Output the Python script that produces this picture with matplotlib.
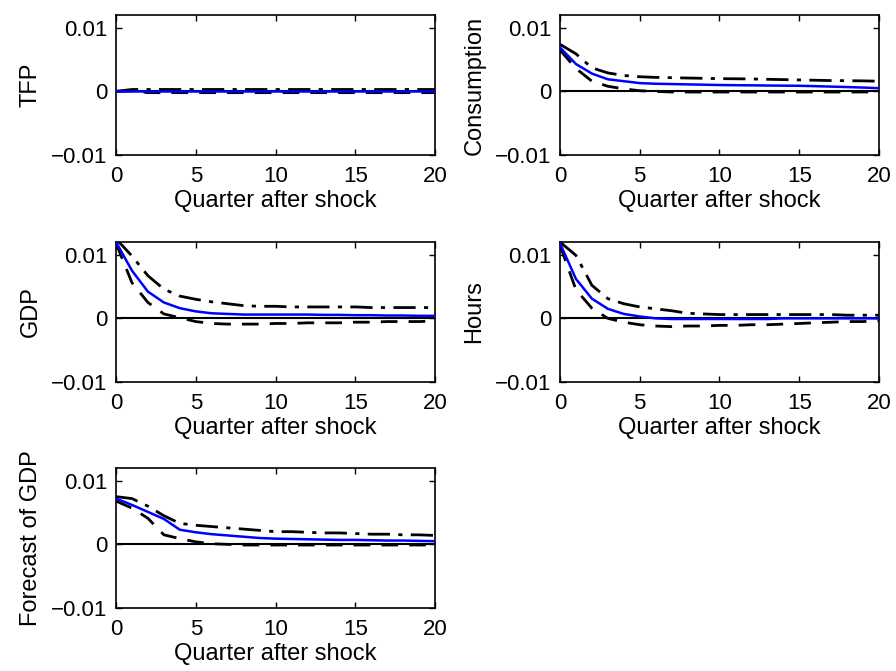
import numpy as np
import matplotlib
matplotlib.use("Agg")
import matplotlib.pyplot as plt

plt.rcParams['font.family'] = ['Liberation Sans', 'DejaVu Sans']

# --- data: impulse responses, quarters 0..20 ---
quarters = np.arange(21)

titles = ["TFP", "Consumption", "GDP", "Hours", "Forecast of GDP"]

tfp_med = [0.0, 0.0, 0.0, 0.0, 0.0, 0.0, 0.0, 0.0, 0.0, 0.0, 0.0,
           0.0, 0.0, 0.0, 0.0, 0.0, 0.0, 0.0, 0.0, 0.0, 0.0]
tfp_hi = [0.0, 0.0003, 0.0003, 0.0003, 0.0003, 0.0003, 0.0003, 0.0003, 0.0003, 0.0003, 0.0003,
          0.0003, 0.0003, 0.0003, 0.0003, 0.0003, 0.0003, 0.0003, 0.0003, 0.0003, 0.0003]
tfp_lo = [0.0, 0.0001, -0.0002, -0.0002, -0.0002, -0.0002, -0.0002, -0.0002, -0.0002, -0.0002, -0.0002,
          -0.0002, -0.0002, -0.0002, -0.0002, -0.0002, -0.0002, -0.0002, -0.0002, -0.0002, -0.0002]

cons_med = [0.0069, 0.0043, 0.0028, 0.0019, 0.0016, 0.0013, 0.0012, 0.00115, 0.0011, 0.00105, 0.001,
            0.00097, 0.00095, 0.00092, 0.0009, 0.00088, 0.00082, 0.00075, 0.00068, 0.0006, 0.0005]
cons_hi = [0.0074, 0.0059, 0.0037, 0.0029, 0.0025, 0.0023, 0.0022, 0.00215, 0.0021, 0.00205, 0.002,
           0.00198, 0.00195, 0.0019, 0.00185, 0.0018, 0.00175, 0.0017, 0.00168, 0.00165, 0.0016]
cons_lo = [0.0065, 0.0036, 0.0016, 0.0008, 0.0004, 0.0001, 0.0, -0.0001, -0.0001, -0.0001, -0.0001,
           -0.0001, -0.0001, -0.0001, -0.0001, -0.0001, -0.0001, -0.0001, -0.0001, -0.0001, -0.0001]

gdp_med = [0.012, 0.0075, 0.0042, 0.0025, 0.0016, 0.0011, 0.0008, 0.0007, 0.0006, 0.0006, 0.0006,
           0.0006, 0.0006, 0.00055, 0.00055, 0.0005, 0.0005, 0.00045, 0.00045, 0.0004, 0.0004]
gdp_hi = [0.0125, 0.0098, 0.0067, 0.0046, 0.0035, 0.003, 0.0026, 0.0023, 0.002, 0.0019, 0.0019,
          0.0018, 0.0018, 0.0018, 0.0018, 0.0018, 0.0017, 0.0017, 0.0017, 0.0017, 0.0017]
gdp_lo = [0.0118, 0.0056, 0.0025, 0.0007, 0.0001, -0.0005, -0.0008, -0.0009, -0.0009, -0.0009, -0.0008,
          -0.0008, -0.0007, -0.0007, -0.0007, -0.0006, -0.0006, -0.0005, -0.0005, -0.0005, -0.0004]

hours_med = [0.0118, 0.0062, 0.0031, 0.0015, 0.0007, 0.0003, 0.0, -0.0001, -0.0001, -0.0001, -0.0001,
             -0.0001, -0.0001, -0.0001, 0.0, 0.0, 0.0, 0.0, 0.0, 0.0, 0.0]
hours_hi = [0.012, 0.0099, 0.0052, 0.0031, 0.0023, 0.0018, 0.0015, 0.0012, 0.0008, 0.0007, 0.0006,
            0.0006, 0.0006, 0.0006, 0.0006, 0.0006, 0.0006, 0.0006, 0.0005, 0.0005, 0.0005]
hours_lo = [0.0115, 0.0045, 0.0016, 0.0, -0.0006, -0.001, -0.0012, -0.0013, -0.0012, -0.0012, -0.0011,
            -0.0011, -0.001, -0.001, -0.0009, -0.0008, -0.0007, -0.0006, -0.0005, -0.0005, -0.0004]

fgdp_med = [0.0072, 0.0062, 0.0051, 0.004, 0.0023, 0.0019, 0.0016, 0.0014, 0.0012, 0.001, 0.0009,
            0.00085, 0.0008, 0.00075, 0.0007, 0.0007, 0.00065, 0.0006, 0.0006, 0.00055, 0.0005]
fgdp_hi = [0.0075, 0.0072, 0.006, 0.0045, 0.0033, 0.003, 0.0028, 0.0026, 0.0024, 0.0022, 0.002,
           0.002, 0.0019, 0.0018, 0.0018, 0.0017, 0.0016, 0.0016, 0.0015, 0.0015, 0.0014]
fgdp_lo = [0.0068, 0.0057, 0.0041, 0.0015, 0.0009, 0.0004, 0.0001, 0.0, -0.0001, -0.0001, -0.0001,
           -0.0001, -0.0001, -0.0001, -0.0001, -0.0001, -0.0001, -0.0001, -0.0001, -0.0001, -0.0001]

medians = [tfp_med, cons_med, gdp_med, hours_med, fgdp_med]
uppers = [tfp_hi, cons_hi, gdp_hi, hours_hi, fgdp_hi]
lowers = [tfp_lo, cons_lo, gdp_lo, hours_lo, fgdp_lo]

y_ticks = [-0.01, 0, 0.01]
y_ticklabels = ["\u22120.01", "0", "0.01"]
x_ticks = [0, 5, 10, 15, 20]

# axes boxes in figure fractions (left, bottom, width, height)
col_left = [0.1295, 0.625]
row_bottom = [0.769, 0.4307, 0.0939]
ax_w, ax_h = 0.356, 0.2086

fig = plt.figure(figsize=(8.96, 6.71), dpi=100)

for i, name in enumerate(titles):
    r, c = divmod(i, 2)
    ax = fig.add_axes([col_left[c], row_bottom[r], ax_w, ax_h])
    ax.axhline(0, color="k", lw=1.5, zorder=1)
    ax.plot(quarters, uppers[i], color="k", lw=2, dashes=[8, 3, 1.5, 3], zorder=2)
    ax.plot(quarters, lowers[i], color="k", lw=2, dashes=[6, 4], zorder=2)
    ax.plot(quarters, medians[i], color="#0000ff", lw=1.8, zorder=3)
    ax.set_xlim(0, 20)
    ax.set_ylim(-0.01, 0.012)
    ax.set_xticks(x_ticks)
    ax.set_yticks(y_ticks)
    ax.set_yticklabels(y_ticklabels)
    ax.tick_params(direction="in", top=True, right=True, length=4, width=1,
                   labelsize=16)
    ax.tick_params(axis="x", pad=8)
    ax.tick_params(axis="y", pad=6)
    for s in ax.spines.values():
        s.set_linewidth(1.2)
    ax.set_xlabel("Quarter after shock", fontsize=17, labelpad=2)
    ax.set_ylabel(name, fontsize=17, labelpad=7)

fig.savefig("out.png", dpi=100)
